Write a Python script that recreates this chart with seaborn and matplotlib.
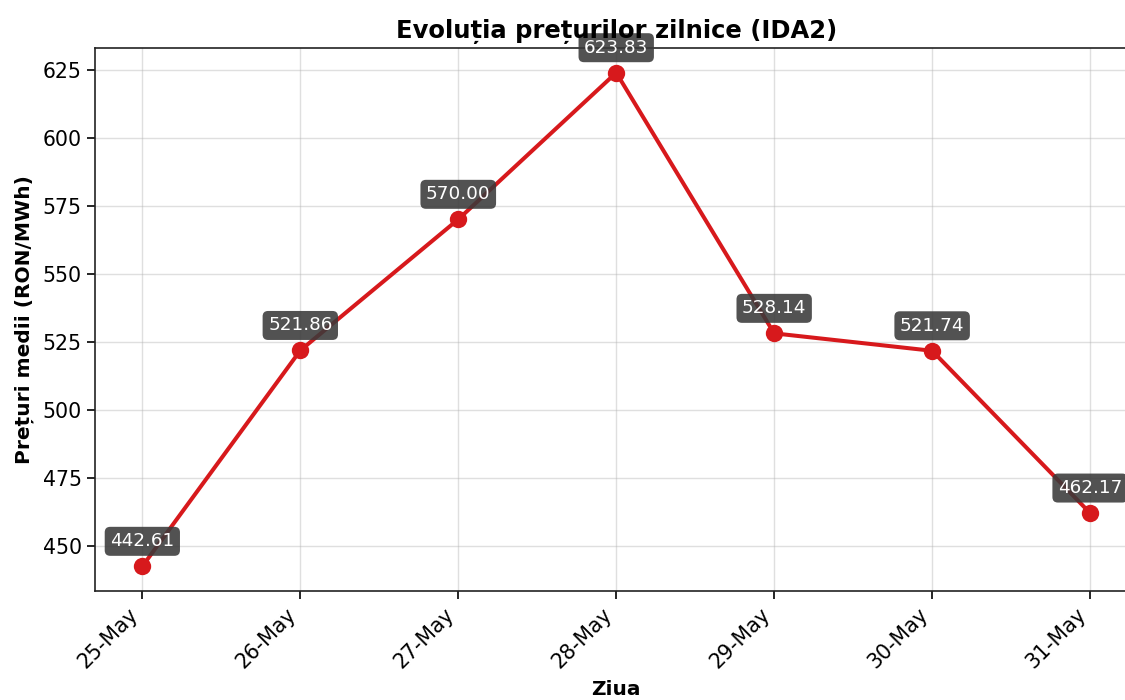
import matplotlib
matplotlib.use("Agg")
import matplotlib.pyplot as plt
import seaborn as sns
import pandas as pd

days = ['25-May', '26-May', '27-May', '28-May', '29-May', '30-May', '31-May']
prices = [442.61, 521.86, 570.00, 623.83, 528.14, 521.74, 462.17]

sns.set_style('ticks', rc={'text.color': 'black', 'axes.labelcolor': 'black',
                           'xtick.color': 'black', 'ytick.color': 'black',
                           'axes.edgecolor': '#222222'})
plt.rcParams['font.family'] = ['DejaVu Sans']

df = pd.DataFrame({'Ziua': days, 'pret': prices})

fig = plt.figure(figsize=(11.25, 7), dpi=100)
ax = fig.add_axes([0.0844, 0.1557, 0.9267, 0.7757])

sns.lineplot(data=df, x='Ziua', y='pret', ax=ax, color='#d7191c', linewidth=2.9,
             marker='o', markersize=12.5, markeredgewidth=0)

for d, p in zip(days, prices):
    ax.annotate(f'{p:.2f}', xy=(d, p), xytext=(0, 18), textcoords='offset points',
                ha='center', va='center', fontsize=13.2, color='white',
                bbox=dict(boxstyle='round,pad=0.3', fc='#3a3a3a', ec='none', alpha=0.88))

ax.set_title('Evoluția prețurilor zilnice (IDA2)', fontsize=17.5, fontweight='bold', pad=7)
ax.set_xlabel('Ziua', fontsize=14.5, fontweight='bold', labelpad=6)
ax.set_ylabel('Prețuri medii (RON/MWh)', fontsize=14.5, fontweight='bold', labelpad=6)
ax.grid(True, color='#b0b0b0', alpha=0.4, linewidth=1)
ax.tick_params(labelsize=14.8, length=6, width=1.2)
plt.setp(ax.get_xticklabels(), rotation=45, ha='right')
for s in ax.spines.values():
    s.set_linewidth(1.2)

fig.savefig('out.png', dpi=100)
